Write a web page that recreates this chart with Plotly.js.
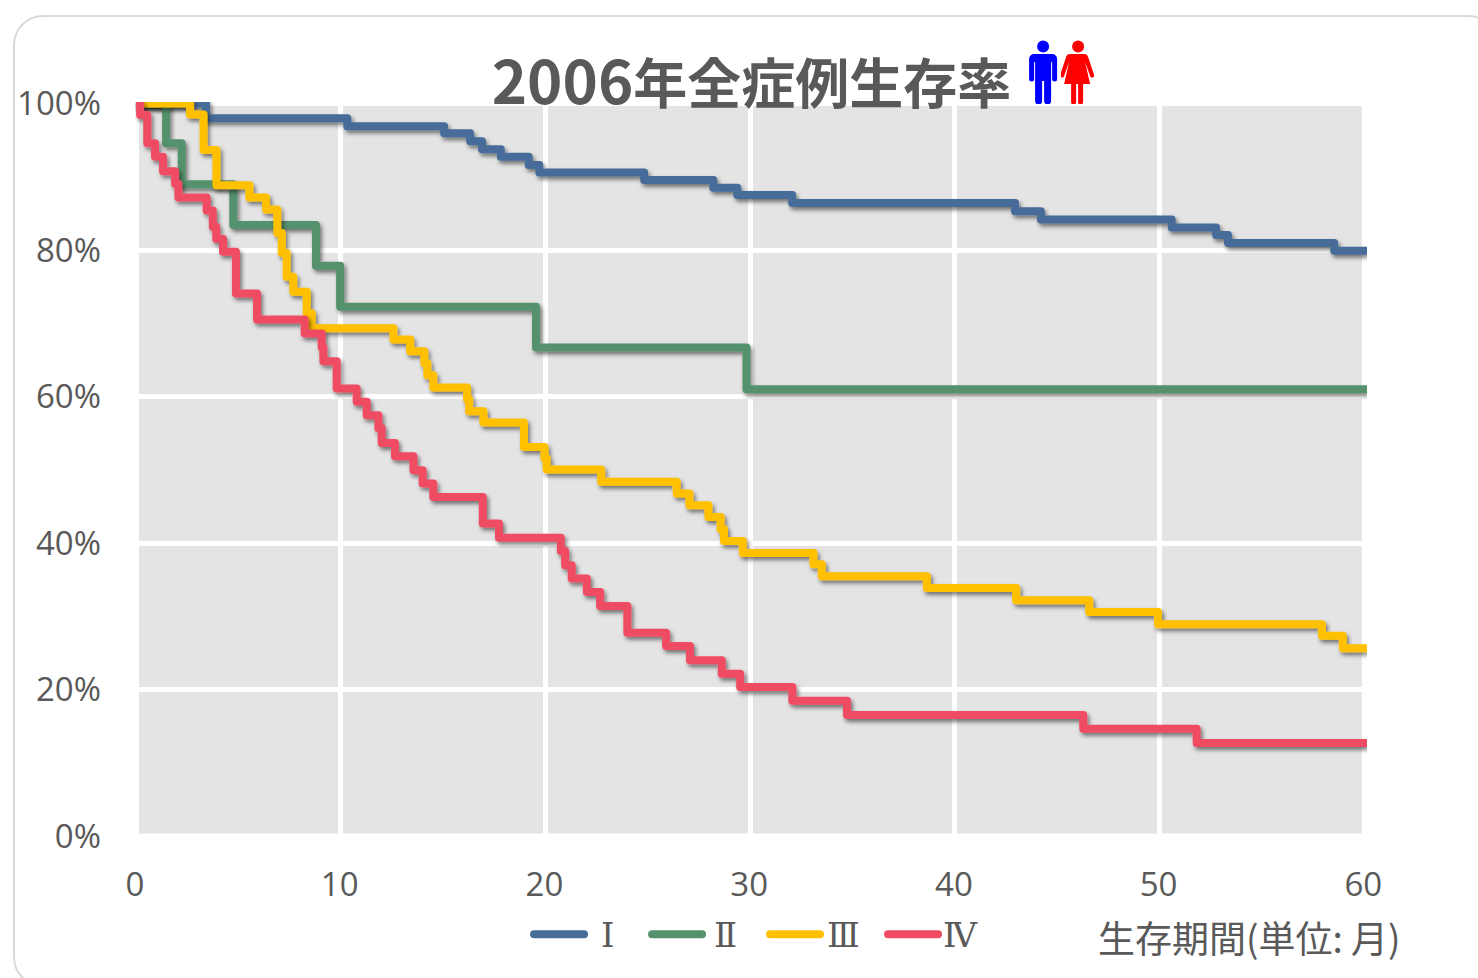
<!DOCTYPE html>
<html lang="ja">
<head>
<meta charset="utf-8">
<script src="https://cdn.plot.ly/plotly-3.0.1.min.js"></script>
<style>
html,body{margin:0;padding:0;width:1478px;height:978px;overflow:hidden;background:#fff}
#card{position:absolute;left:13px;top:15px;width:1481px;height:968px;border:2px solid #d9d9d9;border-radius:30px;box-sizing:content-box}
#chart{position:absolute;left:0;top:0;width:1478px;height:978px}
.scatterlayer .js-line{stroke-linejoin:round;filter:url(#lineShadow)}
.legendlines path{stroke-linecap:round}
.legend .traces:nth-child(1) .legendtext{transform:translateX(12px)}
.legend .traces:nth-child(2) .legendtext{transform:translateX(7px)}
.legend .traces:nth-child(3) .legendtext{transform:translateX(2px)}
</style>
</head>
<body>
<svg width="0" height="0" style="position:absolute"><defs><filter id="lineShadow" filterUnits="userSpaceOnUse" x="-100" y="-100" width="1700" height="1100"><feDropShadow dx="2" dy="3" stdDeviation="2.2" flood-color="#000" flood-opacity="0.5"/></filter></defs></svg>
<div id="card"></div>
<div id="chart"></div>
<script>
const stageNames = ['Ⅰ','Ⅱ','Ⅲ','Ⅳ'];
const stageColors = ['#466c99','#54916c','#ffc000','#ef4c63'];

const monthsI = [0,3.42,10.32,15.05,16.32,16.9,17.82,19.18,19.7,24.82,28.2,29.37,32.05,42.94,44.2,50.59,52.76,53.34,58.53,60.13];
const survivalI = [100,97.99,96.9,95.94,94.85,93.76,92.75,91.61,90.59,89.56,88.51,87.51,86.42,85.29,84.19,83.1,82.05,80.96,79.9,79.9];

const monthsII = [0,1.47,2.23,4.75,8.79,9.97,19.54,29.82,60.13];
const survivalII = [100,94.58,88.98,83.42,77.86,72.25,66.71,61.01,61.01];

const monthsIII = [0,2.64,3.3,3.93,5.54,6.35,6.9,7.12,7.36,7.68,8.34,8.58,12.57,13.39,14.08,14.23,14.52,16.17,16.27,16.97,18.95,19.95,20.06,22.72,26.41,27.03,27.96,28.56,28.72,29.64,33.09,33.5,38.63,42.99,46.56,49.92,57.93,58.95,60.13];
const survivalIII = [100,98.51,93.66,88.84,87.17,85.53,82.32,79.59,76.35,74.33,71.39,69.34,67.8,66.2,64.56,62.92,61.24,59.65,58,56.46,53.13,51.58,50.04,48.37,46.76,45.16,43.57,41.89,40.29,38.65,37.1,35.47,33.88,32.21,30.59,28.93,27.34,25.63,25.63];

const monthsIV = [0,0.2,0.55,0.93,1.32,1.91,2.07,3.45,3.75,3.92,4.25,4.88,5.91,8.24,9.07,9.15,9.8,10.78,11.27,11.84,12,12.65,13.55,14,14.52,16.94,17.73,20.75,20.96,21.28,22.02,22.67,24,25.89,27.06,28.61,29.51,32.06,34.73,46.27,51.81,60.13];
const survivalIV = [100,98.44,94.58,92.75,90.75,89.02,87.17,85.4,83.18,81.5,79.77,74.09,70.51,68.62,66.75,64.84,61.11,59.28,57.46,55.68,53.68,51.86,49.95,48.13,46.3,42.66,40.72,38.92,36.97,35.15,33.32,31.41,27.77,25.94,23.99,22.17,20.34,18.47,16.52,14.66,12.7,12.7];

const xTicks = [0,10,20,30,40,50,60];
const yTicks = [0,20,40,60,80,100];
const chartTitle = '<span style="font-size:60px">2006</span>年全症例生存率';
const xCaption = '生存期間(単位: 月)';

const seriesX = [monthsI,monthsII,monthsIII,monthsIV];
const seriesY = [survivalI,survivalII,survivalIII,survivalIV];

const traces = stageNames.map((name,i)=>({
  type:'scatter',mode:'lines',name,x:seriesX[i],y:seriesY[i],hoverinfo:'skip',
  line:{shape:'hv',width:8,color:stageColors[i]}
}));

const W=1478,H=978;
const pxPerMonth=20.47,pxPerPct=7.32,x0=136,y0=835.6;
const xRange=[-0.05,60.13],yRange=[-0.4,100.22];
const L=x0+xRange[0]*pxPerMonth,R=x0+xRange[1]*pxPerMonth,T=y0-yRange[1]*pxPerPct,B=y0-yRange[0]*pxPerPct;
const px=x=>(x-L)/(R-L), py=y=>(B-y)/(B-T);

const manSvg = `<svg xmlns="http://www.w3.org/2000/svg" viewBox="0 0 30 64"><g fill="#0000ff"><circle cx="15" cy="6.5" r="6"/><path d="M6 14h18a5 5 0 0 1 5 5v20a2.5 2.5 0 0 1-5 0V22h-1v39a3 3 0 0 1-7 0V41h-2v20a3 3 0 0 1-7 0V22H6v17a2.5 2.5 0 0 1-5 0V19a5 5 0 0 1 5-5z"/></g></svg>`;
const womanSvg = `<svg xmlns="http://www.w3.org/2000/svg" viewBox="0 0 34 64"><g fill="#ff0000"><circle cx="17" cy="6.5" r="6"/><path d="M11 14h12a4 4 0 0 1 4 3l6 18a2 2 0 0 1-4 1l-5-14 5 22h-7v18a2.5 2.5 0 0 1-5 0V44h-2v18a2.5 2.5 0 0 1-5 0V44H3l5-22-5 14a2 2 0 0 1-4-1l6-18a4 4 0 0 1 4-3z"/></g></svg>`;
const uri = s=>'data:image/svg+xml;utf8,'+encodeURIComponent(s);

const tickFont={family:'"Open Sans",sans-serif',size:33,color:'#595959'};
const layout={
  width:W,height:H,autosize:false,
  paper_bgcolor:'rgba(0,0,0,0)',plot_bgcolor:'rgba(0,0,0,0)',
  margin:{l:L,r:W-R,t:T,b:H-B,pad:0},
  showlegend:true,
  title:{text:chartTitle,x:751.5/W,xanchor:'center',y:1-85/H,yanchor:'middle',yref:'container',xref:'container',
    font:{family:'"Noto Sans CJK JP",sans-serif',size:54,color:'#595959',weight:700}},
  xaxis:{range:xRange,tickvals:xTicks,ticktext:xTicks.map(String),showgrid:true,gridcolor:'#ffffff',gridwidth:5,zeroline:false,showline:false,ticks:'',tickfont:tickFont,ticklabelstandoff:23,ticklabelshift:-1},
  yaxis:{range:yRange,tickvals:yTicks,ticktext:yTicks.map(v=>v+'%'),showgrid:true,gridcolor:'#ffffff',gridwidth:5,zeroline:false,showline:false,ticks:'',tickfont:tickFont,ticklabelstandoff:33},
  shapes:[{type:'rect',layer:'below',xref:'x',yref:'y',x0:0.122,x1:59.878,y0:0.342,y1:99.658,fillcolor:'#e4e4e4',line:{width:0}}],
  legend:{orientation:'h',x:px(529),xanchor:'left',y:py(934),yanchor:'middle',itemwidth:50,entrywidth:53,entrywidthmode:'pixels',traceorder:'normal',bgcolor:'rgba(0,0,0,0)',itemclick:false,itemdoubleclick:false,
    font:{family:'"DejaVu Serif",serif',size:34,color:'#595959'}},
  annotations:[{xref:'paper',yref:'paper',x:px(1249),y:py(936),xanchor:'center',yanchor:'middle',showarrow:false,text:xCaption,
    font:{family:'"Noto Sans CJK JP",sans-serif',size:37,color:'#595959'}}],
  images:[
    {source:uri(manSvg),xref:'paper',yref:'paper',x:px(1028),y:py(40),sizex:30/(R-L),sizey:64/(B-T),xanchor:'left',yanchor:'top',sizing:'stretch',layer:'above'},
    {source:uri(womanSvg),xref:'paper',yref:'paper',x:px(1061),y:py(40),sizex:34/(R-L),sizey:64/(B-T),xanchor:'left',yanchor:'top',sizing:'stretch',layer:'above'}
  ]
};
Plotly.newPlot('chart',traces,layout,{displayModeBar:false,responsive:false});
</script>
</body>
</html>
